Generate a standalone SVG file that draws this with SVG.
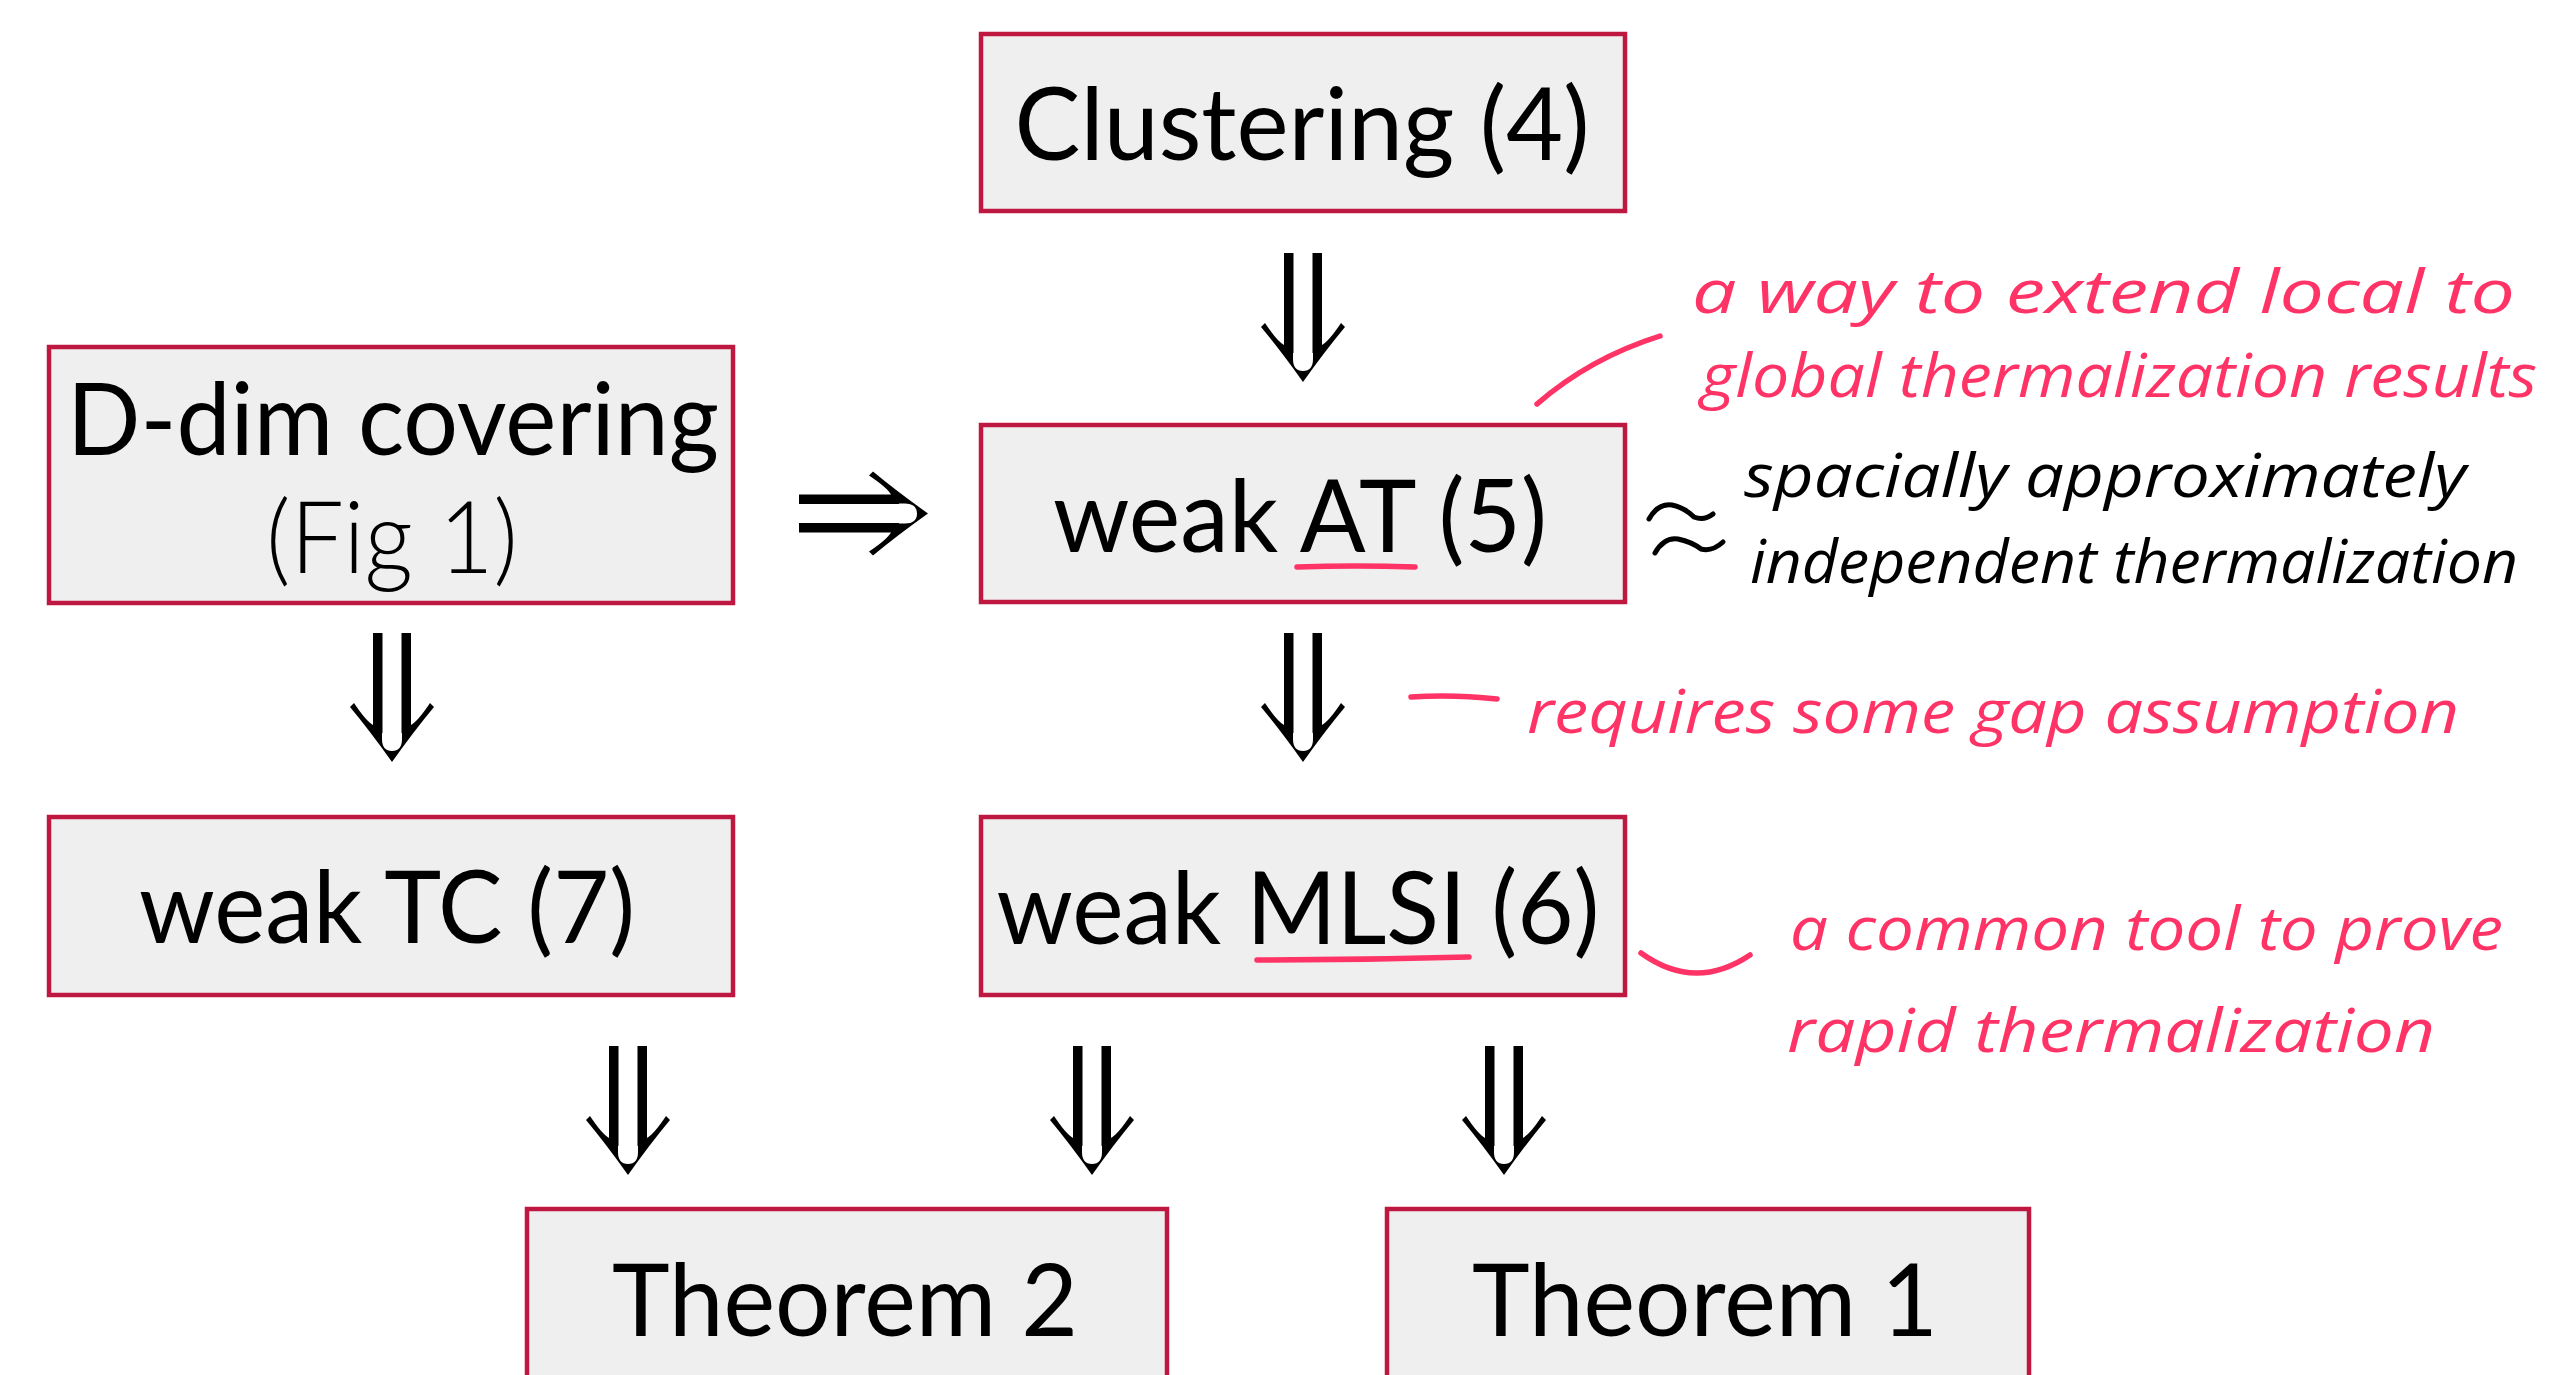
<svg xmlns="http://www.w3.org/2000/svg" xmlns:xlink="http://www.w3.org/1999/xlink" width="2563" height="1375" viewBox="0 0 2563 1375">
<style>
.box{fill:#efefef;stroke:#be1840;stroke-width:4.5}
.lbl{font-family:Lato,"Liberation Sans",sans-serif;font-size:100px;fill:#000;text-anchor:middle}
.light{font-weight:300}
.hw{font-family:"Open Sans","DejaVu Sans",sans-serif;font-style:italic;font-size:60px}
.pk{fill:#ff3366}
.bk{fill:#000}
.pkline{fill:none;stroke:#ff3366;stroke-width:5.5;stroke-linecap:round}
.bkline{fill:none;stroke:#000;stroke-width:5;stroke-linecap:round}
</style>
<defs>
<g id="dn">
<rect x="-19" y="0" width="9.5" height="100" fill="#000"/>
<rect x="9.5" y="0" width="9.5" height="100" fill="#000"/>
<path d="M-42,74 L-38,70 Q-26,88 -19,92 L-10,92 L-10,106 Q-10,118 0,118 Q10,118 10,106 L10,92 L19,92 Q26,88 38,70 L42,74 Q22,98 0,129 Q-22,98 -42,74 Z" fill="#000"/>
</g>
</defs>
<rect width="2563" height="1375" fill="#fff"/>

<g id="connectors">
<use xlink:href="#dn" href="#dn" transform="translate(1303,253)"/>
<use xlink:href="#dn" href="#dn" transform="translate(1303,633)"/>
<use xlink:href="#dn" href="#dn" transform="translate(392,633)"/>
<use xlink:href="#dn" href="#dn" transform="translate(628,1046)"/>
<use xlink:href="#dn" href="#dn" transform="translate(1092,1046)"/>
<use xlink:href="#dn" href="#dn" transform="translate(1504,1046)"/>
<use xlink:href="#dn" href="#dn" transform="translate(799,513.5) rotate(-90)"/>
</g>

<g id="node-clustering">
<rect class="box" x="981" y="34" width="644" height="177"/>
<text class="lbl" x="1302" y="160" textLength="575" lengthAdjust="spacingAndGlyphs">Clustering (4)</text>
</g>

<g id="node-ddim">
<rect class="box" x="49" y="347" width="684" height="256"/>
<text class="lbl" x="393" y="455" textLength="652" lengthAdjust="spacingAndGlyphs">D-dim covering</text>
<text class="lbl light" x="392" y="573" textLength="252" lengthAdjust="spacingAndGlyphs">(Fig 1)</text>
</g>

<g id="node-weakAT">
<rect class="box" x="981" y="425" width="644" height="177"/>
<text class="lbl" x="1300" y="552" textLength="494" lengthAdjust="spacingAndGlyphs">weak AT (5)</text>
<path class="pkline" d="M1297,567 Q1356,565 1415,567"/>
</g>

<g id="node-weakTC">
<rect class="box" x="49" y="817" width="684" height="178"/>
<text class="lbl" x="387" y="943" textLength="496" lengthAdjust="spacingAndGlyphs">weak TC (7)</text>
</g>

<g id="node-weakMLSI">
<rect class="box" x="981" y="817" width="644" height="178"/>
<text class="lbl" x="1298" y="944" textLength="603" lengthAdjust="spacingAndGlyphs">weak MLSI (6)</text>
<path class="pkline" d="M1257,960 Q1363,960 1469,957"/>
</g>

<g id="node-theorem2">
<rect class="box" x="527" y="1209" width="640" height="190"/>
<text class="lbl" x="845" y="1336" textLength="466" lengthAdjust="spacingAndGlyphs">Theorem 2</text>
</g>

<g id="node-theorem1">
<rect class="box" x="1387" y="1209" width="642" height="190"/>
<text class="lbl" x="1705" y="1336" textLength="466" lengthAdjust="spacingAndGlyphs">Theorem 1</text>
</g>

<g id="annotations">
<path class="pkline" d="M1537,404 Q1590,358 1660,336"/>
<text class="hw pk" x="1692" y="313" textLength="823" lengthAdjust="spacingAndGlyphs">a way to extend local to</text>
<text class="hw pk" x="1701" y="397" textLength="836" lengthAdjust="spacingAndGlyphs">global thermalization results</text>

<path class="bkline" d="M1649,519 Q1658,503 1672,505 Q1685,508 1694,517 Q1704,521 1713,514"/>
<path class="bkline" d="M1655,553 Q1664,537 1678,539 Q1692,542 1701,549 Q1712,552 1723,542"/>
<text class="hw bk" x="1744" y="497" textLength="722" lengthAdjust="spacingAndGlyphs">spacially approximately</text>
<text class="hw bk" x="1750" y="583" textLength="768" lengthAdjust="spacingAndGlyphs">independent thermalization</text>

<path class="pkline" d="M1411,697 Q1452,694 1497,699"/>
<text class="hw pk" x="1527" y="733" textLength="932" lengthAdjust="spacingAndGlyphs">requires some gap assumption</text>

<path class="pkline" d="M1641,953 Q1695,992 1750,955"/>
<text class="hw pk" x="1790" y="950" textLength="713" lengthAdjust="spacingAndGlyphs">a common tool to prove</text>
<text class="hw pk" x="1787" y="1052" textLength="648" lengthAdjust="spacingAndGlyphs">rapid thermalization</text>
</g>
</svg>
